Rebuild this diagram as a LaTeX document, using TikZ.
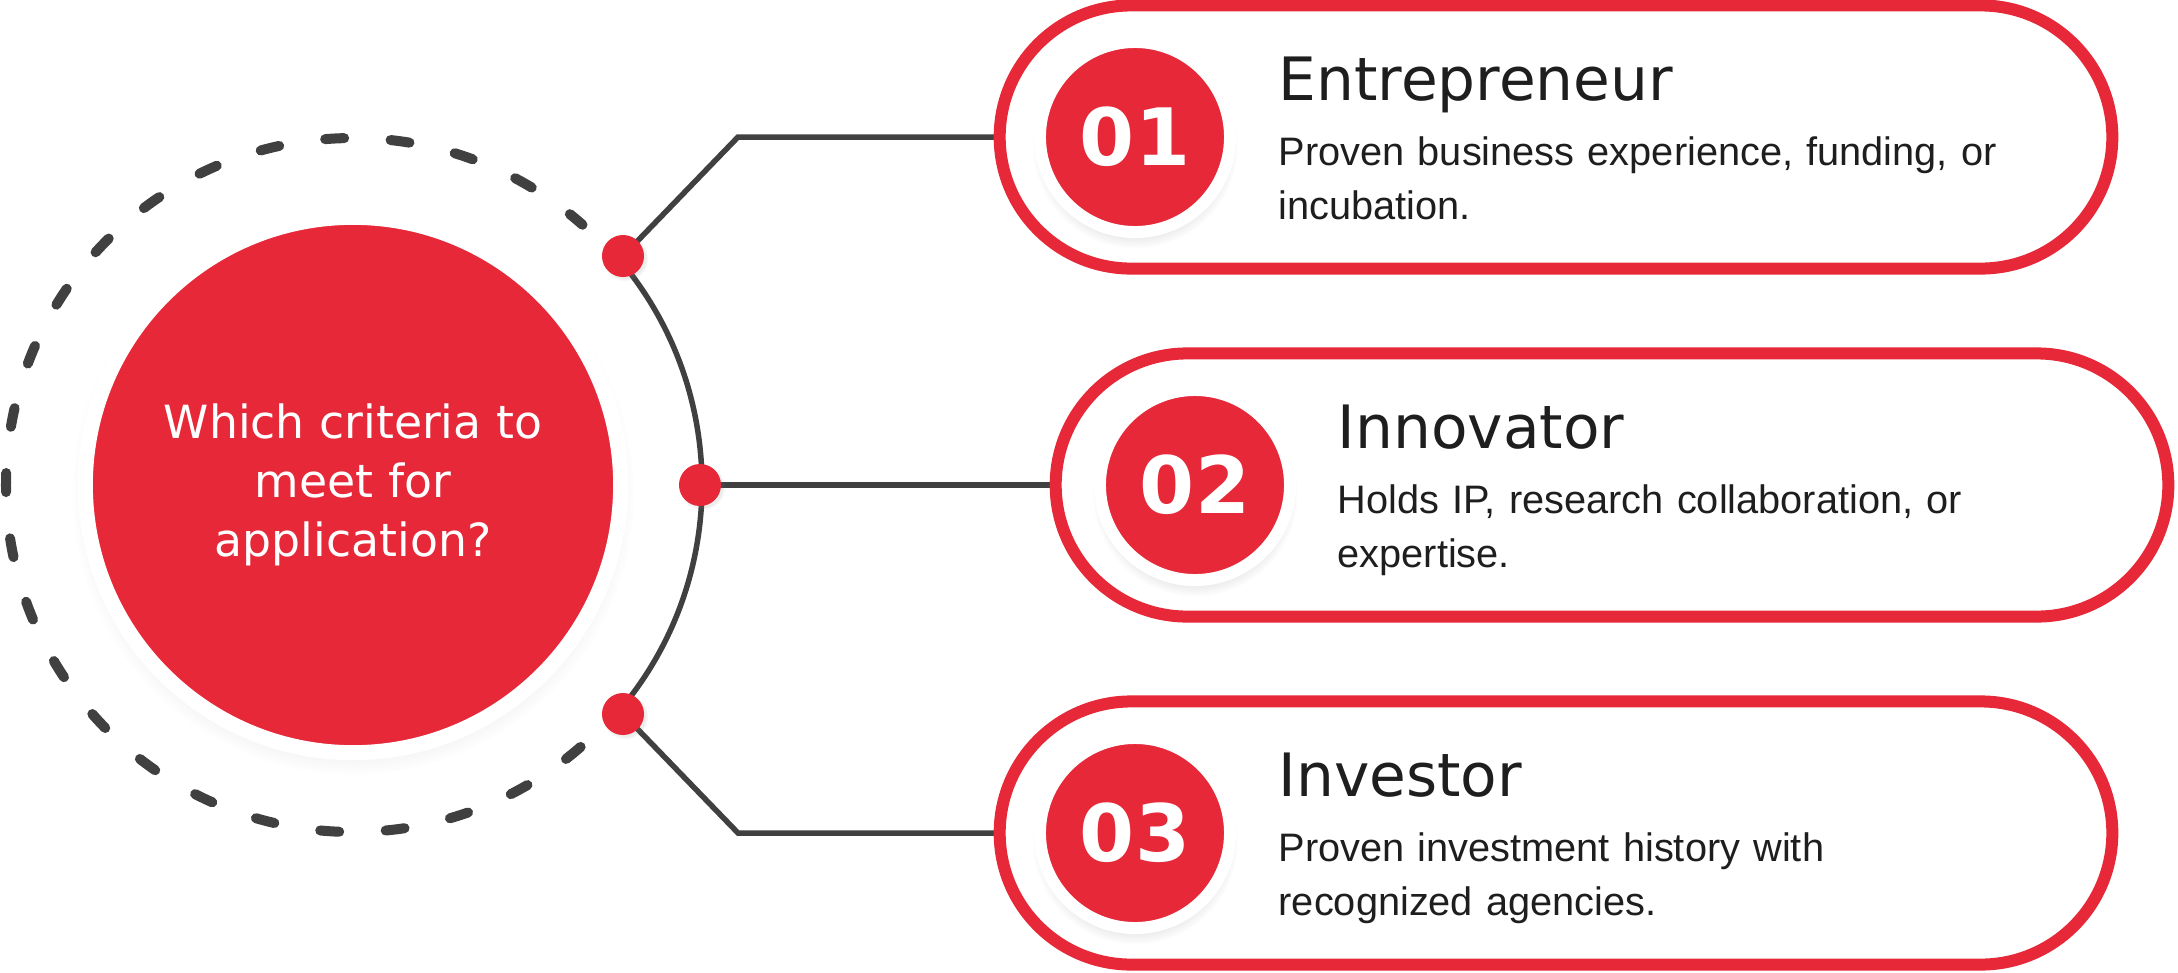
\documentclass[tikz,border=0pt]{standalone}
\usepackage{fontspec}
\setmainfont{Liberation Sans}
\newfontfamily\headfont{DejaVu Sans}
\usepackage{tikz}
\usetikzlibrary{shapes.misc}
\usetikzlibrary{shadows}
\usetikzlibrary{backgrounds}
\definecolor{critred}{HTML}{E62838}
\definecolor{wiregray}{HTML}{404040}
\definecolor{inkblack}{HTML}{1E1E1E}

\begin{document}
\begin{tikzpicture}[x=0.01cm, y=-0.01cm, every node/.style={inner sep=0pt},
    hub/.style={circle, fill=critred, draw=white, line width=0.15cm, minimum size=5.35cm, text=white, align=center, font=\headfont\fontsize{13}{16.8}\selectfont, circular drop shadow={shadow xshift=0cm, shadow yshift=-0.08cm, shadow scale=1.05, opacity=0.18}},
    dot/.style={circle, fill=critred, minimum size=0.42cm, circular drop shadow={shadow xshift=0.02cm, shadow yshift=-0.02cm, shadow scale=1.1, opacity=0.15}},
    pill/.style={rounded rectangle, draw=critred, fill=white, line width=0.12cm, minimum width=11.12cm, minimum height=2.63cm},
    badge/.style={circle, fill=critred, draw=white, line width=0.12cm, minimum size=1.9cm, text=white, font=\headfont\bfseries\fontsize{22.5}{22.5}\selectfont, circular drop shadow={shadow xshift=0cm, shadow yshift=-0.08cm, shadow scale=1.08, opacity=0.2}},
    heading/.style={anchor=base west, text=inkblack, font=\headfont\fontsize{17}{20}\selectfont},
    blurb/.style={anchor=base west, text=inkblack, text width=8cm, align=left, font=\fontsize{11.3}{15.6}\selectfont},
    wire/.style={draw=wiregray, line width=0.055cm},
    ring/.style={draw=wiregray, line width=0.1cm, line cap=round, dash pattern=on 0.19cm off 0.465cm}]

        \useasboundingbox (0,0) rectangle (2178,972);

        \node[hub] (Q) at (353,485) {Which criteria to\\meet for\\application?};

        \node[dot] (D1) at (623,256) {};
        \node[dot] (D2) at (700,485) {};
        \node[dot] (D3) at (623,714) {};

        \node[pill] (P1) at (1556,137) {};
        \node[pill] (P2) at (1612,485) {};
        \node[pill] (P3) at (1556,833) {};

        \node[badge] (N1) at (1135,137) {01};
        \node[badge] (N2) at (1195,485) {02};
        \node[badge] (N3) at (1135,833) {03};

        \node[heading] (T1) at (1278,100) {Entrepreneur};
        \node[heading] (T2) at (1337,448) {Innovator};
        \node[heading] (T3) at (1278,796) {Investor};

        \node[blurb] (S1) at (1278,165) {Proven business experience, funding, or\\incubation.};
        \node[blurb] (S2) at (1337,513) {Holds IP, research collaboration, or\\expertise.};
        \node[blurb] (S3) at (1278,861) {Proven investment history with\\recognized agencies.};

        \coordinate (K1) at (738,137);
        \coordinate (K3) at (738,833);

        \begin{scope}[on background layer]
        \fill[white] (0,0) rectangle (2178,972);
        \draw[ring] ([shift={(353,485)}]49:347) arc[start angle=49, end angle=311.4, radius=347];
        \draw[wire] ([shift={(353,485)}]-41:349) arc[start angle=-41, end angle=41, radius=349];
        \draw[wire] (D1.center) -- (K1) -- (P1.center);
        \draw[wire] (D2.center) -- (P2.center);
        \draw[wire] (D3.center) -- (K3) -- (P3.center);
        \end{scope}

    \end{tikzpicture}
\end{document}
